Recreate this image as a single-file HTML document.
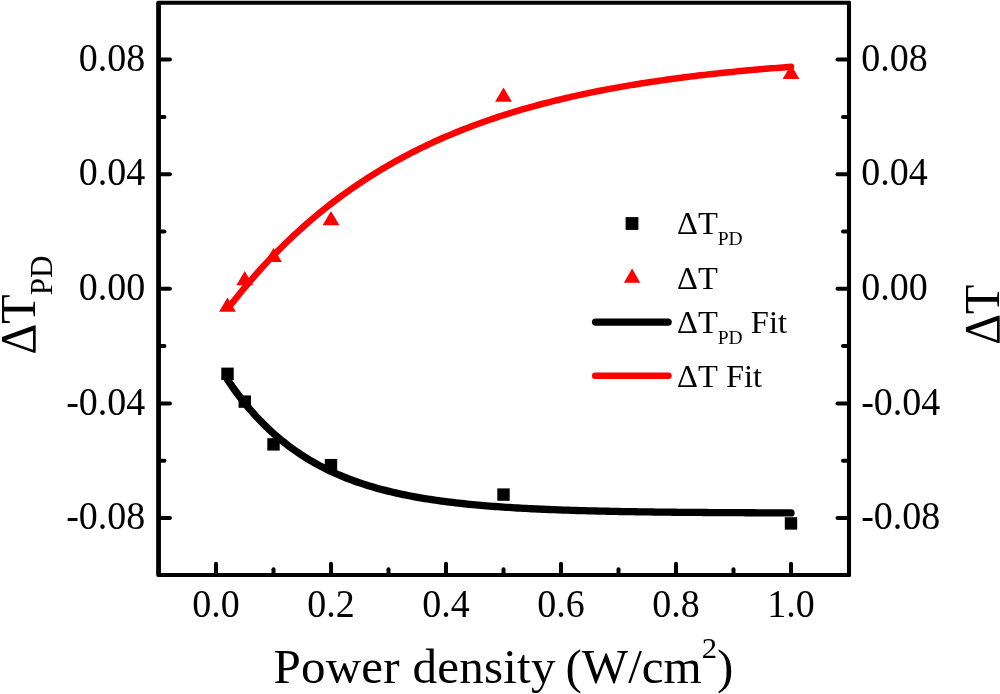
<!DOCTYPE html>
<html lang="en"><head><meta charset="utf-8"><title>Power density plot</title>
<style>
html,body{margin:0;padding:0;background:#fff;}
body{width:1000px;height:694px;overflow:hidden;}
svg{display:block;}
text{font-family:"Liberation Serif",serif;fill:#000;font-kerning:none;}
.tk{font-size:38px;}
.ti{font-size:48px;}
.sb{font-size:31px;}
.sp{font-size:30px;}
.lg{font-size:32.5px;}
.ls{font-size:19.5px;}
</style></head><body>
<svg width="1000" height="694" viewBox="0 0 1000 694">
<rect x="0" y="0" width="1000" height="694" fill="#fff"/>
<g fill="#000">
<rect x="221.30" y="367.60" width="12.40" height="12.40"/>
<rect x="238.55" y="395.40" width="12.40" height="12.40"/>
<rect x="267.30" y="438.17" width="12.40" height="12.40"/>
<rect x="324.80" y="458.94" width="12.40" height="12.40"/>
<rect x="497.30" y="488.39" width="12.40" height="12.40"/>
<rect x="784.80" y="517.24" width="12.40" height="12.40"/>
</g>
<path d="M227.50,379.67 L230.32,383.82 L233.13,387.84 L235.95,391.74 L238.77,395.52 L241.59,399.18 L244.41,402.73 L247.22,406.16 L250.04,409.49 L252.86,412.71 L255.68,415.84 L258.49,418.87 L261.31,421.80 L264.13,424.64 L266.94,427.40 L269.76,430.06 L272.58,432.65 L275.40,435.15 L278.22,437.58 L281.03,439.93 L283.85,442.21 L286.67,444.42 L289.49,446.55 L292.30,448.63 L295.12,450.63 L297.94,452.58 L300.75,454.46 L303.57,456.29 L306.39,458.06 L309.21,459.77 L312.02,461.43 L314.84,463.04 L317.66,464.60 L320.48,466.11 L323.29,467.57 L326.11,468.99 L328.93,470.36 L331.75,471.69 L334.56,472.98 L337.38,474.23 L340.20,475.44 L343.02,476.62 L345.83,477.75 L348.65,478.85 L351.47,479.92 L354.29,480.95 L357.11,481.95 L359.92,482.92 L362.74,483.86 L365.56,484.77 L368.38,485.66 L371.19,486.51 L374.01,487.34 L376.83,488.14 L379.64,488.92 L382.46,489.67 L385.28,490.40 L388.10,491.11 L390.92,491.80 L393.73,492.46 L396.55,493.10 L399.37,493.73 L402.19,494.33 L405.00,494.92 L407.82,495.48 L410.64,496.03 L413.45,496.56 L416.27,497.08 L419.09,497.58 L421.91,498.06 L424.73,498.53 L427.54,498.99 L430.36,499.43 L433.18,499.85 L436.00,500.26 L438.81,500.67 L441.63,501.05 L444.45,501.43 L447.26,501.79 L450.08,502.15 L452.90,502.49 L455.72,502.82 L458.53,503.14 L461.35,503.45 L464.17,503.75 L466.99,504.04 L469.81,504.33 L472.62,504.60 L475.44,504.87 L478.26,505.12 L481.07,505.37 L483.89,505.61 L486.71,505.85 L489.53,506.07 L492.35,506.29 L495.16,506.51 L497.98,506.71 L500.80,506.91 L503.62,507.11 L506.43,507.29 L509.25,507.47 L512.07,507.65 L514.88,507.82 L517.70,507.99 L520.52,508.15 L523.34,508.30 L526.15,508.45 L528.97,508.60 L531.79,508.74 L534.61,508.87 L537.42,509.01 L540.24,509.14 L543.06,509.26 L545.88,509.38 L548.69,509.50 L551.51,509.61 L554.33,509.72 L557.15,509.83 L559.97,509.93 L562.78,510.03 L565.60,510.12 L568.42,510.22 L571.24,510.31 L574.05,510.40 L576.87,510.48 L579.69,510.56 L582.51,510.64 L585.32,510.72 L588.14,510.80 L590.96,510.87 L593.78,510.94 L596.59,511.01 L599.41,511.07 L602.23,511.14 L605.05,511.20 L607.86,511.26 L610.68,511.32 L613.50,511.37 L616.32,511.43 L619.13,511.48 L621.95,511.53 L624.77,511.58 L627.59,511.63 L630.40,511.68 L633.22,511.72 L636.04,511.77 L638.86,511.81 L641.67,511.85 L644.49,511.89 L647.31,511.93 L650.12,511.97 L652.94,512.00 L655.76,512.04 L658.58,512.07 L661.39,512.10 L664.21,512.14 L667.03,512.17 L669.85,512.20 L672.66,512.23 L675.48,512.25 L678.30,512.28 L681.12,512.31 L683.93,512.33 L686.75,512.36 L689.57,512.38 L692.39,512.41 L695.21,512.43 L698.02,512.45 L700.84,512.47 L703.66,512.49 L706.47,512.51 L709.29,512.53 L712.11,512.55 L714.93,512.57 L717.75,512.58 L720.56,512.60 L723.38,512.62 L726.20,512.63 L729.01,512.65 L731.83,512.66 L734.65,512.68 L737.47,512.69 L740.28,512.71 L743.10,512.72 L745.92,512.73 L748.74,512.74 L751.55,512.76 L754.37,512.77 L757.19,512.78 L760.01,512.79 L762.82,512.80 L765.64,512.81 L768.46,512.82 L771.28,512.83 L774.10,512.84 L776.91,512.85 L779.73,512.86 L782.55,512.87 L785.37,512.87 L788.18,512.88 L791.00,512.89" fill="none" stroke="#000" stroke-width="7.3" stroke-linecap="round" stroke-linejoin="round"/>
<g fill="#f00">
<polygon points="219.10,311.66 235.90,311.66 227.50,297.46"/>
<polygon points="236.35,285.30 253.15,285.30 244.75,271.10"/>
<polygon points="265.10,262.09 281.90,262.09 273.50,247.89"/>
<polygon points="322.60,225.13 339.40,225.13 331.00,210.93"/>
<polygon points="495.10,101.65 511.90,101.65 503.50,87.45"/>
<polygon points="782.60,79.02 799.40,79.02 791.00,64.82"/>
</g>
<path d="M229.22,306.88 L232.03,303.26 L234.84,299.69 L237.65,296.18 L240.46,292.71 L243.27,289.29 L246.08,285.92 L248.89,282.60 L251.70,279.33 L254.50,276.10 L257.31,272.92 L260.12,269.79 L262.93,266.69 L265.74,263.65 L268.55,260.64 L271.36,257.68 L274.17,254.76 L276.98,251.88 L279.78,249.05 L282.59,246.25 L285.40,243.49 L288.21,240.78 L291.02,238.10 L293.83,235.46 L296.64,232.85 L299.45,230.29 L302.26,227.76 L305.06,225.26 L307.87,222.80 L310.68,220.38 L313.49,217.99 L316.30,215.63 L319.11,213.31 L321.92,211.02 L324.73,208.77 L327.54,206.54 L330.34,204.35 L333.15,202.19 L335.96,200.06 L338.77,197.96 L341.58,195.89 L344.39,193.85 L347.20,191.83 L350.01,189.85 L352.82,187.90 L355.62,185.97 L358.43,184.07 L361.24,182.19 L364.05,180.35 L366.86,178.53 L369.67,176.73 L372.48,174.96 L375.29,173.22 L378.10,171.50 L380.90,169.81 L383.71,168.14 L386.52,166.49 L389.33,164.87 L392.14,163.27 L394.95,161.69 L397.76,160.13 L400.57,158.60 L403.38,157.09 L406.18,155.60 L408.99,154.13 L411.80,152.68 L414.61,151.26 L417.42,149.85 L420.23,148.46 L423.04,147.10 L425.85,145.75 L428.66,144.42 L431.46,143.11 L434.27,141.82 L437.08,140.55 L439.89,139.29 L442.70,138.05 L445.51,136.84 L448.32,135.63 L451.13,134.45 L453.94,133.28 L456.74,132.13 L459.55,130.99 L462.36,129.88 L465.17,128.77 L467.98,127.69 L470.79,126.61 L473.60,125.56 L476.41,124.52 L479.21,123.49 L482.02,122.48 L484.83,121.48 L487.64,120.50 L490.45,119.53 L493.26,118.57 L496.07,117.63 L498.88,116.70 L501.69,115.78 L504.49,114.88 L507.30,113.99 L510.11,113.11 L512.92,112.25 L515.73,111.40 L518.54,110.56 L521.35,109.73 L524.16,108.91 L526.97,108.11 L529.77,107.31 L532.58,106.53 L535.39,105.76 L538.20,105.00 L541.01,104.25 L543.82,103.51 L546.63,102.78 L549.44,102.07 L552.25,101.36 L555.05,100.66 L557.86,99.97 L560.67,99.29 L563.48,98.63 L566.29,97.97 L569.10,97.32 L571.91,96.68 L574.72,96.05 L577.53,95.42 L580.33,94.81 L583.14,94.21 L585.95,93.61 L588.76,93.02 L591.57,92.44 L594.38,91.87 L597.19,91.31 L600.00,90.76 L602.81,90.21 L605.61,89.67 L608.42,89.14 L611.23,88.61 L614.04,88.10 L616.85,87.59 L619.66,87.09 L622.47,86.59 L625.28,86.10 L628.09,85.62 L630.89,85.15 L633.70,84.68 L636.51,84.22 L639.32,83.77 L642.13,83.32 L644.94,82.88 L647.75,82.44 L650.56,82.01 L653.37,81.59 L656.17,81.18 L658.98,80.76 L661.79,80.36 L664.60,79.96 L667.41,79.57 L670.22,79.18 L673.03,78.80 L675.84,78.42 L678.64,78.05 L681.45,77.68 L684.26,77.32 L687.07,76.96 L689.88,76.61 L692.69,76.27 L695.50,75.93 L698.31,75.59 L701.12,75.26 L703.92,74.93 L706.73,74.61 L709.54,74.29 L712.35,73.98 L715.16,73.67 L717.97,73.37 L720.78,73.07 L723.59,72.77 L726.40,72.48 L729.20,72.19 L732.01,71.91 L734.82,71.63 L737.63,71.36 L740.44,71.09 L743.25,70.82 L746.06,70.55 L748.87,70.29 L751.68,70.04 L754.48,69.79 L757.29,69.54 L760.10,69.29 L762.91,69.05 L765.72,68.81 L768.53,68.58 L771.34,68.34 L774.15,68.12 L776.96,67.89 L779.76,67.67 L782.57,67.45 L785.38,67.23 L788.19,67.02 L791.00,66.81" fill="none" stroke="#f00" stroke-width="6.5" stroke-linecap="round" stroke-linejoin="round"/>
<g stroke="#000" stroke-linecap="round">
<line x1="158.55" y1="3.05" x2="158.55" y2="574.7" stroke-width="4.8"/>
<line x1="849" y1="2.75" x2="849" y2="575" stroke-width="4.1"/>
<line x1="159" y1="2.75" x2="849" y2="2.75" stroke-width="4.0"/>
<line x1="159" y1="575" x2="849" y2="575" stroke-width="4.2"/>
</g>
<g stroke="#000" stroke-width="4" stroke-linecap="round">
<line x1="159" y1="518.00" x2="169.90" y2="518.00"/>
<line x1="849" y1="518.00" x2="837.50" y2="518.00"/>
<line x1="159" y1="460.70" x2="164.40" y2="460.70"/>
<line x1="849" y1="460.70" x2="843.00" y2="460.70"/>
<line x1="159" y1="403.40" x2="169.90" y2="403.40"/>
<line x1="849" y1="403.40" x2="837.50" y2="403.40"/>
<line x1="159" y1="346.10" x2="164.40" y2="346.10"/>
<line x1="849" y1="346.10" x2="843.00" y2="346.10"/>
<line x1="159" y1="288.80" x2="169.90" y2="288.80"/>
<line x1="849" y1="288.80" x2="837.50" y2="288.80"/>
<line x1="159" y1="231.50" x2="164.40" y2="231.50"/>
<line x1="849" y1="231.50" x2="843.00" y2="231.50"/>
<line x1="159" y1="174.20" x2="169.90" y2="174.20"/>
<line x1="849" y1="174.20" x2="837.50" y2="174.20"/>
<line x1="159" y1="116.90" x2="164.40" y2="116.90"/>
<line x1="849" y1="116.90" x2="843.00" y2="116.90"/>
<line x1="159" y1="59.60" x2="169.90" y2="59.60"/>
<line x1="849" y1="59.60" x2="837.50" y2="59.60"/>
<line x1="216.00" y1="575" x2="216.00" y2="563.80"/>
<line x1="273.50" y1="575" x2="273.50" y2="569.30"/>
<line x1="331.00" y1="575" x2="331.00" y2="563.80"/>
<line x1="388.50" y1="575" x2="388.50" y2="569.30"/>
<line x1="446.00" y1="575" x2="446.00" y2="563.80"/>
<line x1="503.50" y1="575" x2="503.50" y2="569.30"/>
<line x1="561.00" y1="575" x2="561.00" y2="563.80"/>
<line x1="618.50" y1="575" x2="618.50" y2="569.30"/>
<line x1="676.00" y1="575" x2="676.00" y2="563.80"/>
<line x1="733.50" y1="575" x2="733.50" y2="569.30"/>
<line x1="791.00" y1="575" x2="791.00" y2="563.80"/>
</g>
<g class="tk">
<text transform="translate(145.3,70.80) scale(1,1.045)" text-anchor="end">0.08</text>
<text transform="translate(861.2,70.80) scale(1,1.045)">0.08</text>
<text transform="translate(145.3,185.40) scale(1,1.045)" text-anchor="end">0.04</text>
<text transform="translate(861.2,185.40) scale(1,1.045)">0.04</text>
<text transform="translate(145.3,300.00) scale(1,1.045)" text-anchor="end">0.00</text>
<text transform="translate(861.2,300.00) scale(1,1.045)">0.00</text>
<text transform="translate(145.3,414.60) scale(1,1.045)" text-anchor="end">-0.04</text>
<text transform="translate(861.2,414.60) scale(1,1.045)">-0.04</text>
<text transform="translate(145.3,529.20) scale(1,1.045)" text-anchor="end">-0.08</text>
<text transform="translate(861.2,529.20) scale(1,1.045)">-0.08</text>
<text transform="translate(216.00,617.3) scale(1,1.045)" text-anchor="middle">0.0</text>
<text transform="translate(331.00,617.3) scale(1,1.045)" text-anchor="middle">0.2</text>
<text transform="translate(446.00,617.3) scale(1,1.045)" text-anchor="middle">0.4</text>
<text transform="translate(561.00,617.3) scale(1,1.045)" text-anchor="middle">0.6</text>
<text transform="translate(676.00,617.3) scale(1,1.045)" text-anchor="middle">0.8</text>
<text transform="translate(791.00,617.3) scale(1,1.045)" text-anchor="middle">1.0</text>
</g>
<text class="ti" transform="translate(503.4,682.8) scale(1.0225,1)" text-anchor="middle"><tspan letter-spacing="0.22">Power density</tspan><tspan dx="-2.4"> (W/cm</tspan><tspan class="sp" dy="-25">2</tspan><tspan dy="25">)</tspan></text>
<text class="ti" transform="translate(35.2,354.5) rotate(-90) scale(1,1.035)">ΔT</text>
<text class="sb" transform="translate(52,295.2) rotate(-90)">PD</text>
<text class="ti" transform="translate(998.6,344.8) rotate(-90) scale(1,1.035)">ΔT</text>
<rect x="625.6" y="217.1" width="12.8" height="12.8" fill="#000"/>
<polygon points="623.9,282.8 640.3,282.8 632.1,268.4" fill="#f00"/>
<line x1="595.5" y1="322.1" x2="668.2" y2="322.1" stroke="#000" stroke-width="7.2" stroke-linecap="round"/>
<line x1="595.3" y1="375.8" x2="668.4" y2="375.8" stroke="#f00" stroke-width="6.6" stroke-linecap="round"/>
<g class="lg">
<text x="677" y="234.2">ΔT<tspan class="ls" dy="11.2">PD</tspan></text>
<text x="677" y="288.6">ΔT</text>
<text x="677" y="332.5">ΔT<tspan class="ls" dy="11.2">PD</tspan><tspan dy="-11.2"> Fit</tspan></text>
<text x="677" y="386.8">ΔT Fit</text>
</g>
</svg></body></html>
